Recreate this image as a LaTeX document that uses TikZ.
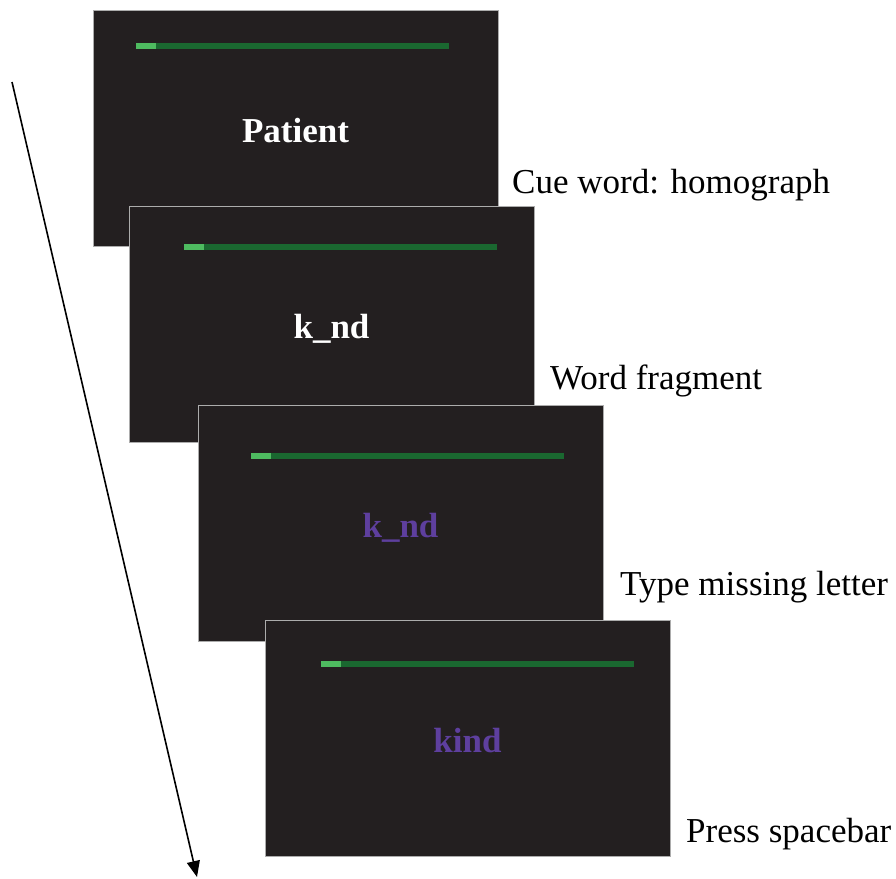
\documentclass[tikz,border=0pt]{standalone}
\usepackage{fontspec}
\setmainfont{Liberation Serif}
\usetikzlibrary{arrows.meta}
\definecolor{screenbg}{RGB}{35,31,32}
\definecolor{bardark}{RGB}{26,104,48}
\definecolor{barlight}{RGB}{78,187,96}
\definecolor{typed}{RGB}{94,63,158}
\tikzset{
  screen/.style={draw=gray!65, line width=1.2pt, fill=screenbg, anchor=north west,
    minimum width=405pt, minimum height=236pt, inner sep=0pt},
  bartrack/.style={draw=none, fill=bardark},
  barfill/.style={draw=none, fill=barlight},
  stim/.style={font=\fontsize{35}{40}\selectfont\bfseries, anchor=base, inner sep=0pt},
  caption/.style={font=\fontsize{35}{40}\selectfont, anchor=base west, inner sep=0pt},
  timeline/.style={line width=1.6pt, -{Triangle[length=16pt,width=13pt]}}
}
\newcommand{\progressbar}[2]{%
  \fill[bartrack] (#1,#2) rectangle ++(313,6);
  \fill[barfill] (#1,#2) rectangle ++(20,6);
}
\begin{document}
\begin{tikzpicture}[x=1pt,y=-1pt]
\useasboundingbox (0,0) rectangle (896,878);

% time arrow
\coordinate (tstart) at (12,82);
\coordinate (tend) at (197,877);
\draw[timeline] (tstart) -- (tend);

% screen 1: cue word
\node[screen] (s1) at (93,10) {};
\progressbar{136}{43}
\node[stim, text=white] (w1) at (295.5,142) {Patient};
\node[caption] (c1) at (512,193) {Cue word: homograph};

% screen 2: word fragment
\node[screen] (s2) at (129,206) {};
\progressbar{184}{244}
\node[stim, text=white] (w2) at (331.5,338) {k\_nd};
\node[caption] (c2) at (550,389) {Word fragment};

% screen 3: response typed
\node[screen] (s3) at (198,405) {};
\progressbar{251}{453}
\node[stim, text=typed] (w3) at (400.5,537) {k\_nd};
\node[caption] (c3) at (620,595) {Type missing letter};

% screen 4: completed word
\node[screen] (s4) at (265,620) {};
\progressbar{321}{661}
\node[stim, text=typed] (w4) at (467.5,752) {kind};
\node[caption] (c4) at (686,842) {Press spacebar};
\end{tikzpicture}
\end{document}
